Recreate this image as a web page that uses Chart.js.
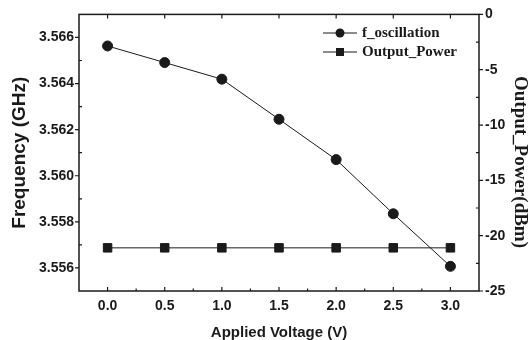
<!DOCTYPE html>
<html>
<head>
<meta charset="utf-8">
<script src="https://cdn.jsdelivr.net/npm/chart.js@4.4.0/dist/chart.umd.min.js"></script>
<style>
  html, body { margin: 0; padding: 0; background: #fff; }
  #wrap { position: relative; width: 529px; height: 340px; }
</style>
</head>
<body>
<div id="wrap"><canvas id="c"></canvas></div>
<script>
// Datos
const voltage      = [0, 0.5, 1.0, 1.5, 2.0, 2.5, 3.0];
const fOscillation = [3.56563, 3.56491, 3.56419, 3.56245, 3.56070, 3.55835, 3.55607];
const outputPower  = [-21.1, -21.1, -21.1, -21.1, -21.1, -21.1, -21.1];

const voltTicks  = [0, 0.5, 1.0, 1.5, 2.0, 2.5, 3.0];
const freqTicks  = [3.556, 3.558, 3.560, 3.562, 3.564, 3.566];
const powerTicks = [0, -5, -10, -15, -20, -25];

const seriesNames = ["f_oscillation", "Output_Power"];

const INK = "#1a1a1a";
const SANS = "'Liberation Sans', Arial, sans-serif";
const SERIF = "'Liberation Serif', 'Times New Roman', serif";

// ── Marco y marcas de escala ────────────────────────────────────────────────
const mid = arr => arr.slice(1).map((v, i) => (v + arr[i]) / 2);

const frameTicks = {
  id: "frameTicks",
  beforeDatasetsDraw(chart) {
    const { ctx, chartArea: a, scales } = chart;
    const x = scales.x, y = scales.y, y2 = scales.y2;
    ctx.save();
    ctx.strokeStyle = INK;
    ctx.lineWidth = 1.5;
    ctx.strokeRect(a.left, a.top, a.right - a.left, a.bottom - a.top);

    ctx.lineWidth = 1.2;
    ctx.beginPath();
    voltTicks.forEach(v => {
      const px = x.getPixelForValue(v);
      ctx.moveTo(px, a.bottom); ctx.lineTo(px, a.bottom - 4);
      ctx.moveTo(px, a.top);    ctx.lineTo(px, a.top + 4);
    });
    mid(voltTicks).forEach(v => {
      const px = x.getPixelForValue(v);
      ctx.moveTo(px, a.bottom); ctx.lineTo(px, a.bottom - 2.5);
    });
    freqTicks.forEach(v => {
      const py = y.getPixelForValue(v);
      ctx.moveTo(a.left, py); ctx.lineTo(a.left - 4, py);
    });
    mid(freqTicks).forEach(v => {
      const py = y.getPixelForValue(v);
      ctx.moveTo(a.left, py); ctx.lineTo(a.left + 3, py);
    });
    powerTicks.forEach(v => {
      const py = y2.getPixelForValue(v);
      ctx.moveTo(a.right, py); ctx.lineTo(a.right + 4, py);
    });
    mid(powerTicks).forEach(v => {
      const py = y2.getPixelForValue(v);
      ctx.moveTo(a.right, py); ctx.lineTo(a.right - 3, py);
    });
    ctx.stroke();
    ctx.restore();
  }
};

// ── Leyenda con línea + marcador, y título del eje derecho ──────────────────
const lineLegend = {
  id: "lineLegend",
  afterDraw(chart) {
    const { ctx } = chart;
    ctx.save();
    chart.data.datasets.forEach((ds, i) => {
      const yy = 33 + i * 19;
      ctx.strokeStyle = INK;
      ctx.lineWidth = 1;
      ctx.beginPath();
      ctx.moveTo(323, yy); ctx.lineTo(357, yy);
      ctx.stroke();
      ctx.fillStyle = INK;
      if (ds.pointStyle === "rect") {
        ctx.fillRect(336, yy - 4, 8, 8);
      } else {
        ctx.beginPath();
        ctx.arc(340, yy, 4.5, 0, Math.PI * 2);
        ctx.fill();
      }
      ctx.font = `bold 15px ${SERIF}`;
      ctx.textBaseline = "middle";
      ctx.textAlign = "left";
      ctx.fillText(ds.label, 362, yy);
    });

    // el título derecho va algo más abajo del centro en el original
    ctx.translate(520, 162);
    ctx.rotate(Math.PI / 2);
    ctx.font = `bold 19px ${SERIF}`;
    ctx.textAlign = "center";
    ctx.textBaseline = "middle";
    ctx.fillText("Output_Power(dBm)", 0, 0);
    ctx.restore();
  }
};

const tickFont = { family: SANS, size: 14, weight: "bold" };

new Chart(document.getElementById("c"), {
  type: "line",
  data: {
    datasets: [
      {
        label: seriesNames[0],
        data: voltage.map((v, i) => ({ x: v, y: fOscillation[i] })),
        yAxisID: "y",
        borderColor: INK,
        backgroundColor: INK,
        borderWidth: 1,
        pointStyle: "circle",
        pointRadius: 5,
        tension: 0,
      },
      {
        label: seriesNames[1],
        data: voltage.map((v, i) => ({ x: v, y: outputPower[i] })),
        yAxisID: "y2",
        borderColor: INK,
        backgroundColor: INK,
        borderWidth: 1,
        pointStyle: "rect",
        pointRadius: 6,
        tension: 0,
      },
    ],
  },
  options: {
    responsive: true,
    maintainAspectRatio: false,
    animation: false,
    layout: { padding: { top: 13, left: 0, right: 0, bottom: 0 } },
    plugins: { legend: { display: false }, tooltip: { enabled: false } },
    scales: {
      x: {
        type: "linear",
        min: -0.25,
        max: 3.25,
        grid: { display: false, drawTicks: false },
        border: { display: false },
        afterBuildTicks: s => { s.ticks = voltTicks.map(v => ({ value: v })); },
        afterFit: s => { s.height = 49; },
        ticks: { font: tickFont, color: INK, padding: 7, callback: v => v.toFixed(1) },
        title: {
          display: true,
          text: "Applied Voltage (V)",
          color: INK,
          font: { family: SANS, size: 15, weight: "bold", lineHeight: 1 },
          padding: { top: 4, bottom: 0 },
        },
      },
      y: {
        position: "left",
        min: 3.555,
        max: 3.567,
        grid: { display: false, drawTicks: false },
        border: { display: false },
        afterBuildTicks: s => { s.ticks = freqTicks.map(v => ({ value: v })); },
        afterFit: s => { s.width = 79; },
        ticks: { font: tickFont, color: INK, padding: 5, callback: v => v.toFixed(3) },
        title: {
          display: true,
          text: "Frequency (GHz)",
          color: INK,
          font: { family: SANS, size: 19, weight: "bold", lineHeight: 1 },
          padding: { top: 10, bottom: 0 },
        },
      },
      y2: {
        position: "right",
        min: -25,
        max: 0,
        grid: { display: false, drawTicks: false },
        border: { display: false },
        afterBuildTicks: s => { s.ticks = powerTicks.map(v => ({ value: v })); },
        afterFit: s => { s.width = 50; },
        ticks: { font: tickFont, color: INK, padding: 6, callback: v => `${v}` },
        title: { display: false },
      },
    },
  },
  plugins: [frameTicks, lineLegend],
});
</script>
</body>
</html>
